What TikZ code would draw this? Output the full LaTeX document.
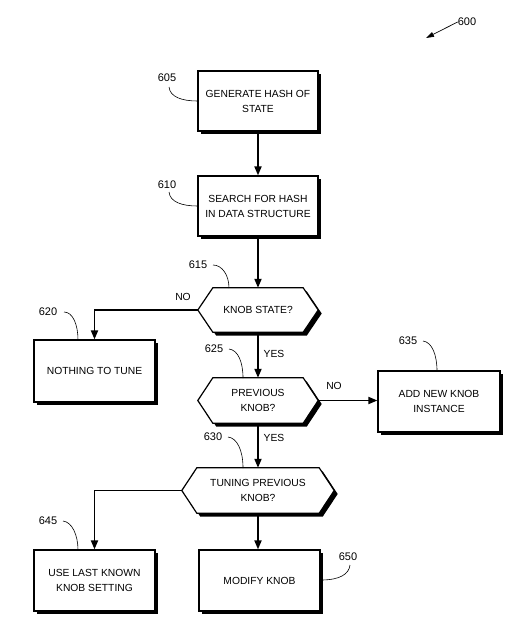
\documentclass[tikz,border=0pt]{standalone}
\usepackage{fontspec}
\setmainfont{Liberation Sans}
\usetikzlibrary{arrows.meta,shadows,calc}
\pgfdeclarelayer{bg}
\pgfsetlayers{bg,main}
\begin{document}
\begin{tikzpicture}[x=1pt,y=-1pt,
  every node/.style={font=\fontsize{10.3}{15}\selectfont},
  box/.style={draw, line width=1.2pt, fill=white, align=center, inner sep=0pt,
    drop shadow={shadow xshift=3pt,shadow yshift=-3pt,opacity=1,fill=black}},
  hexcore/.style={align=center, inner sep=0pt},
  hexline/.style={draw, line width=1.2pt, fill=white, line join=miter,
    drop shadow={shadow xshift=3.5pt,shadow yshift=-3.5pt,opacity=1,fill=black}},
  flow/.style={line width=1.8pt, -{Triangle[length=9pt,width=7pt]}},
  lead/.style={line width=0.6pt},
  tag/.style={font=\fontsize{11}{12}\selectfont, inner sep=0pt},
  lbl/.style={inner sep=0pt}
]
\useasboundingbox (0,0) rectangle (528,637);

% process boxes
\node[box, minimum width=120, minimum height=60] (b1) at (258,101) {GENERATE HASH OF\\STATE};
\node[box, minimum width=120, minimum height=60] (b2) at (258,206) {SEARCH FOR HASH\\IN DATA STRUCTURE};
\node[box, minimum width=121, minimum height=62] (b3) at (94.5,371) {NOTHING TO TUNE};
\node[box, minimum width=122, minimum height=61] (b4) at (439,401.5) {ADD NEW KNOB\\INSTANCE};
\node[box, minimum width=121, minimum height=61] (b5) at (94.5,580.5) {USE LAST KNOWN\\KNOB SETTING};
\node[box, minimum width=121, minimum height=61] (b6) at (259.5,580.5) {MODIFY KNOB};

% decisions
\node[hexcore, minimum width=90, minimum height=44] (d1) at (258,310) {KNOB STATE?};
\node[hexcore, minimum width=90, minimum height=45] (d2) at (258,400.5) {PREVIOUS\\KNOB?};
\node[hexcore, minimum width=122, minimum height=45] (d3) at (258,490.5) {TUNING PREVIOUS\\KNOB?};
\coordinate (d1w) at ($(d1.west)+(-15,0)$);
\coordinate (d1e) at ($(d1.east)+(15,0)$);
\coordinate (d2w) at ($(d2.west)+(-15,0)$);
\coordinate (d2e) at ($(d2.east)+(15,0)$);
\coordinate (d3w) at ($(d3.west)+(-15,0)$);
\coordinate (d3e) at ($(d3.east)+(15,0)$);
\begin{pgfonlayer}{bg}
\path[hexline] (d1.north west) -- (d1.north east) -- (d1e) -- (d1.south east) -- (d1.south west) -- (d1w) -- cycle;
\path[hexline] (d2.north west) -- (d2.north east) -- (d2e) -- (d2.south east) -- (d2.south west) -- (d2w) -- cycle;
\path[hexline] (d3.north west) -- (d3.north east) -- (d3e) -- (d3.south east) -- (d3.south west) -- (d3w) -- cycle;
\end{pgfonlayer}

% connectors
\draw[flow] (b1.south) -- (b2.north);
\draw[flow] (b2.south) -- (d1.north);
\draw[flow] (d1.south) -- (d2.north);
\draw[flow] (d1w) -| (b3.north);
\draw[flow] (d2e) -- (d2e -| b4.west);
\draw[flow] (d2.south) -- (d3.north);
\draw[flow] (d3w) -| (b5.north);
\draw[flow] (d3.south) -- (d3.south |- b6.north);

% branch labels
\node[lbl] (no1) at (183,297) {NO};
\node[lbl] (yes1) at (274,354) {YES};
\node[lbl] (no2) at (334,386) {NO};
\node[lbl] (yes2) at (274,438) {YES};

% reference numerals and leaders
\node[tag] (t600) at (467,22) {600};
\coordinate (a600) at (426,38);
\draw[line width=0.7pt, -{Triangle[length=8pt,width=5pt]}] (t600.west) -- (a600);

\node[tag] (t605) at (167,78) {605};
\coordinate (s605) at (169,87);
\draw[lead] (s605) .. controls (170,97) and (182,101) .. (b1.west);

\node[tag] (t610) at (167,185) {610};
\coordinate (s610) at (169,192);
\draw[lead] (s610) .. controls (170,202) and (182,206) .. (b2.west);

\node[tag] (t615) at (198,265) {615};
\coordinate (s615) at (213,265);
\coordinate (e615) at (229,288);
\draw[lead] (s615) .. controls (222,265) and (229,275) .. (e615);

\node[tag] (t620) at (48,312) {620};
\coordinate (s620) at (64,312);
\coordinate (e620) at (78,340);
\draw[lead] (s620) .. controls (73,312) and (78,325) .. (e620);

\node[tag] (t625) at (214,349) {625};
\coordinate (s625) at (229,349);
\coordinate (e625) at (243,378);
\draw[lead] (s625) .. controls (238,350) and (243,362) .. (e625);

\node[tag] (t635) at (408,341) {635};
\coordinate (s635) at (423,341);
\coordinate (e635) at (437,371);
\draw[lead] (s635) .. controls (432,342) and (437,355) .. (e635);

\node[tag] (t630) at (213,437) {630};
\coordinate (s630) at (228,437);
\coordinate (e630) at (243,468);
\draw[lead] (s630) .. controls (237,438) and (243,450) .. (e630);

\node[tag] (t645) at (48,521) {645};
\coordinate (s645) at (63,521);
\coordinate (e645) at (78,550);
\draw[lead] (s645) .. controls (72,522) and (78,535) .. (e645);

\node[tag] (t650) at (348,557) {650};
\coordinate (s650) at (350,565);
\coordinate (e650) at (321,580);
\draw[lead] (s650) .. controls (349,574) and (340,580) .. (e650);
\end{tikzpicture}
\end{document}
